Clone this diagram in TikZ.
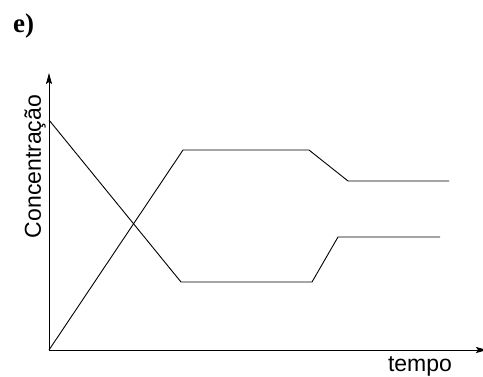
\documentclass[tikz,border=0pt]{standalone}
\usepackage{fontspec}
\setmainfont{Liberation Serif}
\setsansfont{Liberation Sans}
\usetikzlibrary{arrows.meta}
\begin{document}
\begin{tikzpicture}[x=1pt,y=-1pt,
  curve/.style={line width=0.9pt},
  axis/.style={line width=0.9pt,-{Stealth[length=11pt,width=6pt,inset=2pt]}},
  lab/.style={font=\sffamily\fontsize{23}{23}\selectfont,inner sep=0pt}]
\useasboundingbox (0,0) rectangle (483,376);
\coordinate (O) at (49,350);
\coordinate (ytip) at (49,73);
\coordinate (xtip) at (487,350);
\draw[axis] (O) -- (ytip);
\draw[axis] (O) -- (xtip);
% decreasing then rising
\coordinate (a1) at (49,120);
\coordinate (a2) at (181,282);
\coordinate (a3) at (312,282);
\coordinate (a4) at (338,237);
\coordinate (a5) at (440,237);
\draw[curve] (a1) -- (a2) -- (a3) -- (a4) -- (a5);
% rising then falling
\coordinate (b2) at (183,150);
\coordinate (b3) at (309,150);
\coordinate (b4) at (348,181);
\coordinate (b5) at (449,181);
\draw[curve] (O) -- (b2) -- (b3) -- (b4) -- (b5);
\node[lab,rotate=90] (ylab) at (35,166.5) {Concentração};
\node[lab,anchor=base] (xlab) at (420,371) {tempo};
\node[font=\bfseries\fontsize{27}{27}\selectfont,inner sep=0pt] (elab) at (23.5,26) {e)};
\end{tikzpicture}
\end{document}
